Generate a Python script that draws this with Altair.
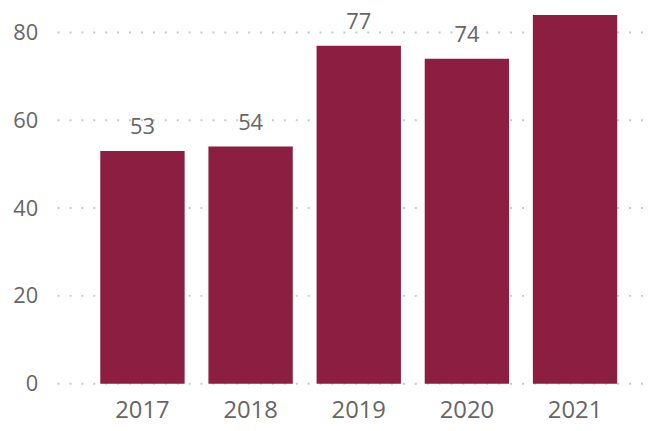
import altair as alt
import pandas as pd

years = ["2017", "2018", "2019", "2020", "2021"]
values = [53, 54, 77, 74, 84]
grid_values = [0, 20, 40, 60, 80]

df = pd.DataFrame({"year": years, "value": values})
gdf = pd.DataFrame({"g": grid_values})

FONT = "Open Sans"
GREY = "#666666"

yscale = alt.Scale(domain=[0, 85.2], nice=False)
yaxis = alt.Axis(title=None, values=grid_values, labelFontSize=22,
                 labelColor=GREY, labelFont=FONT, ticks=False, domain=False,
                 labelPadding=20, grid=False)

grid = alt.Chart(gdf).mark_rule(color="#c8c8c8", strokeDash=[2, 10], strokeWidth=2).encode(
    y=alt.Y("g:Q", scale=yscale, axis=yaxis),
    x=alt.value(0),
    x2=alt.value(592),
)

base = alt.Chart(df).encode(
    x=alt.X("year:N", sort=years,
            scale=alt.Scale(paddingInner=0.22, paddingOuter=0, range=[43, 564]),
            axis=alt.Axis(title=None, labelAngle=0, labelFontSize=24, labelColor=GREY,
                          labelFont=FONT, ticks=False, domain=False, labelPadding=15,
                          grid=False)),
)

bars = base.mark_bar(color="#8B1E41").encode(
    y=alt.Y("value:Q", scale=yscale, axis=yaxis),
)

labels = base.mark_text(dy=-24, fontSize=22, color=GREY, font=FONT).encode(
    y=alt.Y("value:Q", scale=yscale, axis=yaxis),
    text=alt.Text("value:Q"),
)

chart = (grid + bars + labels).properties(
    width=592, height=377,
    autosize=alt.AutoSizeParams(type="none"),
    padding={"left": 50, "top": 0, "right": 0, "bottom": 40},
).configure_view(stroke=None)

chart.save("out.html", embed_options={"renderer": "svg", "actions": False})
